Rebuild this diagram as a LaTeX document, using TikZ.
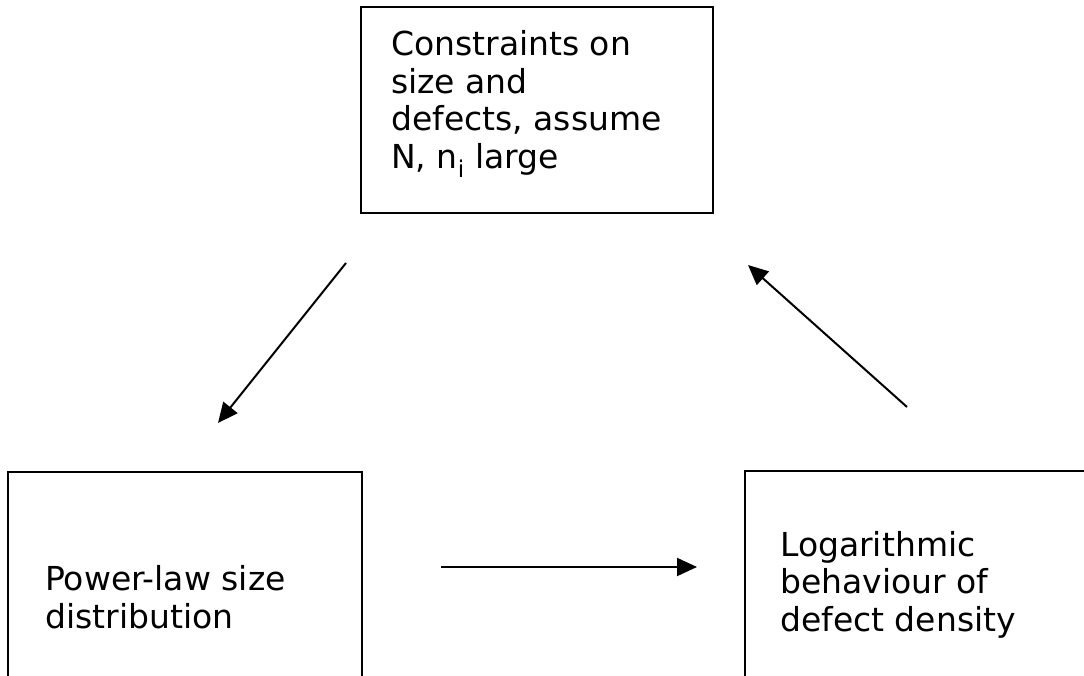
\documentclass[tikz,border=0pt]{standalone}
\usepackage{fontspec}
\setmainfont{DejaVu Sans}
\usetikzlibrary{arrows.meta}
\tikzset{
  box/.style={draw=black, line width=1.6pt, rectangle, inner sep=0pt},
  label/.style={anchor=base west, inner sep=0pt, align=left,
    font=\fontsize{33}{37.5}\selectfont},
  conn/.style={line width=2pt, -{Triangle[length=20pt,width=18pt]}}
}
\begin{document}
\begin{tikzpicture}[x=1pt,y=-1pt]
\useasboundingbox (0,0) rectangle (1084,676);
\clip (0,0) rectangle (1084,676);
% boxes
\node[box, minimum width=352pt, minimum height=206pt] (top) at (537,110) {};
\node[box, minimum width=354pt, minimum height=260pt] (left) at (185,602) {};
\node[box, minimum width=360pt, minimum height=260pt] (right) at (925,601) {};
% texts (anchored at the baseline of the last line)
\node[label] (ttop) at (391,168.5) {Constraints on\\size and\\defects, assume\\N, n\textsubscript{i} large};
\node[label] (tleft) at (45,628) {Power-law size\\distribution};
\node[label] (tright) at (780,631) {Logarithmic\\behaviour of\\defect density};
% connector ends
\coordinate (a1s) at (346,263);
\coordinate (a1e) at (218,423);
\coordinate (a2s) at (907,407);
\coordinate (a2e) at (748,265);
\coordinate (a3s) at (441,567);
\coordinate (a3e) at (697,567);
\draw[conn] (a1s) -- (a1e);
\draw[conn] (a2s) -- (a2e);
\draw[conn] (a3s) -- (a3e);
\end{tikzpicture}
\end{document}
